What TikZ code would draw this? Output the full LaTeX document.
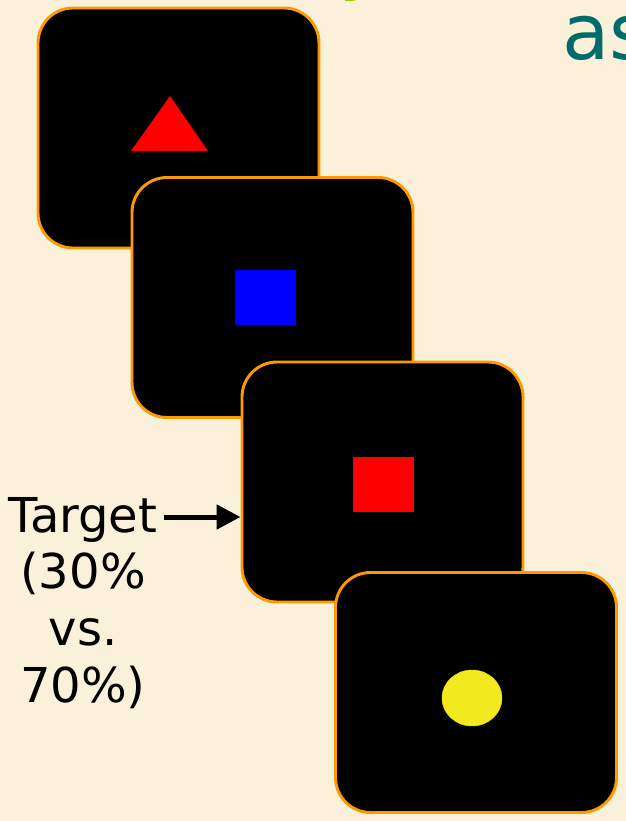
\documentclass[tikz,border=0pt]{standalone}
\usepackage{fontspec}
\setmainfont{DejaVu Sans}
\usetikzlibrary{arrows.meta,shapes.geometric}
\definecolor{paper}{HTML}{FBF1DA}
\definecolor{frame}{HTML}{FF9900}
\definecolor{titleteal}{HTML}{006B6B}
\definecolor{titlegreen}{HTML}{99CC00}
\definecolor{dotyellow}{HTML}{F2EA1E}

\begin{document}
\begin{tikzpicture}[x=0.03cm,y=-0.03cm,
  screen/.style={draw=frame,line width=2.5pt,fill=black,rounded corners=1.05cm,
    minimum width=8.43cm,minimum height=7.2cm,inner sep=0pt},
  stim/.style={inner sep=0pt,minimum width=1.83cm,minimum height=1.65cm}]
   \fill[paper] (0,0) rectangle (626,821);
   \clip (0,0) rectangle (626,821);
   \node[titlegreen,font=\fontsize{66}{80}\selectfont,anchor=base west] (ttly) at (335,-14) {y};
   \node[titleteal,font=\fontsize{66}{80}\selectfont,anchor=base west] (ttlas) at (558,60) {as};
   \node[screen] (S1) at (178.5,128) {};
   \fill[red] (170,96) -- (208,151) -- (131,151) -- cycle;
   \node[screen] (S2) at (272.5,297.5) {};
   \node[stim,fill=blue] (Blue) at (265.5,297) {};
   \node[screen] (S3) at (382.5,482) {};
   \node[stim,fill=red] (Red) at (383.5,484.5) {};
   \node[screen] (S4) at (476,692.5) {};
   \node[ellipse,fill=dotyellow,draw=yellow!90!black,inner sep=0pt,
     minimum width=1.8cm,minimum height=1.68cm] (Dot) at (472,698) {};
   \node[font=\fontsize{41}{48.5}\selectfont,align=center] (Tgt) at (83,603)
     {Target\\(30\%\\vs.\\70\%)};
   \coordinate (TgtTail) at (164,517);
   \path[-{Triangle[length=0.72cm,width=0.72cm]},line width=0.15cm] (TgtTail) edge (TgtTail -| S3.west);
\end{tikzpicture}
\end{document}
